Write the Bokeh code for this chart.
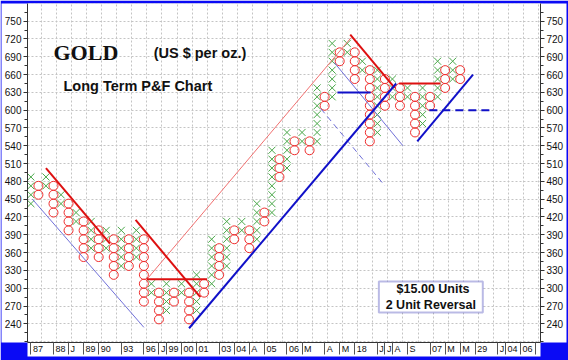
from bokeh.plotting import figure
from bokeh.models import FixedTicker, LinearAxis, Range1d, Label, BoxAnnotation
from bokeh.embed import file_html
from bokeh.resources import INLINE

# ---------------- data ----------------
BOX = 15
col_type = ["X", "O", "X", "O", "X", "O", "X", "O", "X", "O",
            "X", "O", "X", "O", "X", "O", "X", "O", "X", "O",
            "X", "O", "X", "O", "X", "O", "X", "O", "X", "O",
            "X", "O", "X", "O", "X", "O", "X", "O", "X", "O",
            "X", "O", "X", "O", "X", "O", "X", "O", "X", "O",
            "X", "O", "X", "O", "X", "O", "X", "O"]
col_low = [435, 450, 465, 420, 435, 390, 405, 345, 360, 345,
           360, 315, 330, 330, 345, 270, 285, 240, 255, 270,
           285, 240, 255, 285, 300, 315, 330, 375, 390, 360,
           375, 405, 420, 480, 495, 525, 540, 525, 540, 600,
           615, 675, 690, 645, 660, 540, 555, 600, 615, 600,
           615, 555, 570, 600, 615, 630, 645, 645]
col_high = [480, 465, 480, 465, 450, 435, 420, 405, 405, 390,
            390, 375, 390, 375, 390, 375, 300, 285, 300, 285,
            300, 285, 315, 300, 375, 360, 405, 390, 405, 390,
            435, 420, 525, 510, 555, 540, 555, 540, 630, 615,
            705, 690, 705, 690, 675, 660, 660, 645, 645, 630,
            630, 615, 630, 615, 675, 660, 675, 660]

x_labels = ["87", "88", "J", "89", "90", "93", "96", "J", "99", "00",
            "01", "03", "04", "A", "05", "06", "M", "A", "M", "18",
            "J", "J", "A", "S", "07", "M", "M", "29", "J", "04", "06"]
x_label_cols = [0, 3, 5, 7, 9, 12, 15, 17, 18, 20,
                22, 25, 27, 29, 31, 34, 36, 39, 41, 43,
                46, 47, 48, 50, 53, 55, 57, 59, 62, 63, 65]
x_extra_separators = [67]

y_ticks = list(range(240, 751, 30))
y_minor = list(range(210, 781, 15))

# trend lines (column, price)
red_x0 = [2.0, 13.9, 15.4, 42.4, 48.9]
red_y0 = [502.5, 415, 315, 727.5, 645]
red_x1 = [10.5, 22.5, 23.4, 48.3, 54.4]
red_y1 = [375, 285, 315, 637.5, 645]

pink_x = [15.4, 42.5]
pink_y = [315, 722]

blue_x0 = [21.0, 40.7, 51.3]
blue_y0 = [232.5, 630, 547.5]
blue_x1 = [48.5, 45.1, 58.7]
blue_y1 = [645, 630, 660]

violet_x0 = [0.2, 40.3]
violet_y0 = [450, 680]
violet_x1 = [15.0, 49.4]
violet_y1 = [234, 540]

violet_dash_x = [38.5, 47.0]
violet_dash_y = [602.5, 472.5]

blue_dash_x = [52.9, 60.9]
blue_dash_y = [600, 600]

# ---------------- expand columns into boxes ----------------
xx, xy, ox, oy = [], [], [], []
for i, (t, lo, hi) in enumerate(zip(col_type, col_low, col_high)):
    v = lo
    while v <= hi:
        if t == "X":
            xx.append(i); xy.append(v + BOX / 2)
        else:
            ox.append(i); oy.append(v + BOX / 2)
        v += BOX

# ---------------- figure ----------------
W, H = 568, 360
p = figure(width=W, height=H,
           x_range=Range1d(-0.45, 67.66), y_range=Range1d(208.5, 779.8),
           output_backend="svg", toolbar_location=None,
           min_border_left=27, min_border_right=28,
           min_border_top=3, min_border_bottom=18)
p.background_fill_color = "white"
p.outline_line_color = None

FONT = "Liberation Sans"
FRAME_BLUE = "#0a0af5"

# y axes (left and right)
def style_y(ax):
    ax.ticker = FixedTicker(ticks=y_ticks, minor_ticks=y_minor)
    ax.axis_label = None
    ax.major_label_text_font = FONT
    ax.major_label_text_font_size = "10px"
    ax.major_label_text_color = "#111111"
    ax.major_tick_out = 4
    ax.major_tick_in = 0
    ax.minor_tick_out = 3
    ax.minor_tick_in = 0
    ax.major_label_standoff = 2
    ax.axis_line_color = "#333333"
    ax.major_tick_line_color = "#333333"
    ax.minor_tick_line_color = "#333333"

style_y(p.yaxis[0])
right_axis = LinearAxis()
style_y(right_axis)
p.add_layout(right_axis, "right")

# x axis: label cells with separators
px_per_col = 7.524
def label_offset(s):
    w = {"J": 4.5, "M": 7.5, "A": 6.0, "S": 6.0}.get(s, 10.0)
    return (2.0 + w / 2.0) / px_per_col

label_centers = [c + label_offset(s) for c, s in zip(x_label_cols, x_labels)]
xa = p.xaxis[0]
xa.axis_label = None
xa.ticker = FixedTicker(ticks=label_centers, minor_ticks=x_label_cols + x_extra_separators)
xa.major_label_overrides = {c: s for c, s in zip(label_centers, x_labels)}
xa.major_tick_out = 0
xa.major_tick_in = 0
xa.minor_tick_out = 12
xa.minor_tick_in = 0
xa.major_label_standoff = -11
xa.major_label_text_font = FONT
xa.major_label_text_font_size = "9px"
xa.major_label_text_color = "#111111"
xa.axis_line_color = "#333333"
xa.minor_tick_line_color = "#555555"

# blue frame: border fill blue, axis panels white (if supported)
try:
    for ax in (p.yaxis[0], right_axis, xa):
        ax.background_fill_color = "white"
    p.border_fill_color = FRAME_BLUE
except AttributeError:
    p.border_fill_color = "white"

# grid
p.xgrid.ticker = FixedTicker(ticks=[1.4 + 2 * k for k in range(34)])
p.xgrid.grid_line_color = "#c4c4c4"
p.xgrid.grid_line_dash = "2 2"
p.ygrid.ticker = FixedTicker(ticks=y_ticks + [210, 780])
p.ygrid.grid_line_color = "#c4c4c4"
p.ygrid.grid_line_dash = "2 2"

# symbols
p.scatter(x=xx, y=xy, marker="x", size=10, line_color="#4aa84a", line_width=1)
p.scatter(x=ox, y=oy, marker="circle", size=9, fill_color=None,
          line_color="#f02e2e", line_width=1)

# trend lines
p.segment(x0=violet_x0, y0=violet_y0, x1=violet_x1, y1=violet_y1,
          line_color="#7070d8", line_width=1)
p.segment(x0=violet_dash_x[0], y0=violet_dash_y[0], x1=violet_dash_x[1], y1=violet_dash_y[1],
          line_color="#7070d8", line_width=1, line_dash="6 4")
p.line(x=pink_x, y=pink_y, line_color="#f07070", line_width=1)
p.segment(x0=red_x0, y0=red_y0, x1=red_x1, y1=red_y1, line_color="#dd1010", line_width=2)
p.segment(x0=blue_x0, y0=blue_y0, x1=blue_x1, y1=blue_y1, line_color="#1010c8", line_width=2)
p.line(x=blue_dash_x, y=blue_dash_y, line_color="#1010c8", line_width=2, line_dash="8 5")

# titles
p.add_layout(Label(x=3.0, y=697, text="GOLD", text_font="Liberation Serif",
                   text_font_style="bold", text_font_size="22px",
                   text_color="#111111", text_baseline="alphabetic"))
p.add_layout(Label(x=16.3, y=696, text="(US $ per oz.)", text_font=FONT,
                   text_font_style="bold", text_font_size="14.5px",
                   text_color="#111111", text_baseline="alphabetic"))
p.add_layout(Label(x=4.33, y=641.5, text="Long Term P&F Chart", text_font=FONT,
                   text_font_style="bold", text_font_size="14.5px",
                   text_color="#111111", text_baseline="alphabetic"))

# units box
p.add_layout(BoxAnnotation(left=46.2, right=60.0, bottom=259.2, top=311.4,
                           fill_color="white", fill_alpha=1.0,
                           line_color="#1a1aa8", line_width=2))
p.add_layout(Label(x=53.4, y=299.5, text="$15.00 Units", text_font=FONT,
                   text_font_style="bold", text_font_size="12.5px",
                   text_color="#111111", text_align="center", text_baseline="middle"))
p.add_layout(Label(x=53.1, y=272.5, text="2 Unit Reversal", text_font=FONT,
                   text_font_style="bold", text_font_size="12.5px",
                   text_color="#111111", text_align="center", text_baseline="middle"))

open("out.html", "w").write(file_html(p, INLINE))
